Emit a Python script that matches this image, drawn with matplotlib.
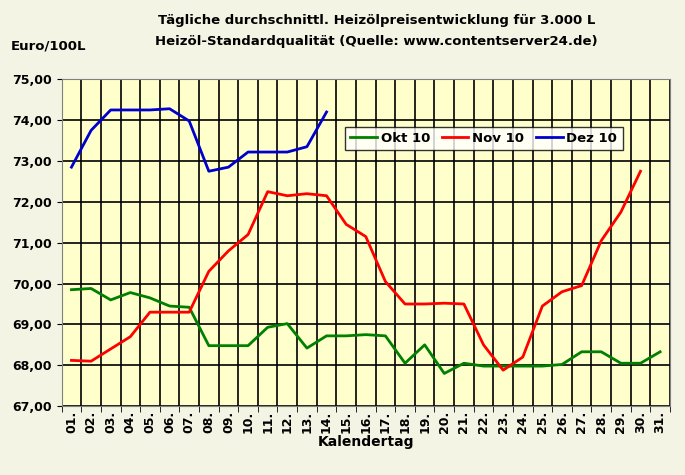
import matplotlib
matplotlib.use("Agg")
import matplotlib.pyplot as plt
import numpy as np

days = [f"{d:02d}." for d in range(1, 32)]
okt = [69.85,69.88,69.6,69.78,69.65,69.45,69.42,68.48,68.48,68.48,68.93,69.02,68.42,68.72,68.72,68.75,68.72,68.05,68.5,67.8,68.05,67.98,67.98,67.98,67.98,68.02,68.33,68.33,68.05,68.05,68.33]
nov = [68.12,68.1,68.4,68.7,69.3,69.3,69.3,70.3,70.8,71.2,72.25,72.15,72.2,72.15,71.45,71.15,70.05,69.5,69.5,69.52,69.5,68.5,67.88,68.2,69.45,69.8,69.95,71.05,71.75,72.75]
dez = [72.85,73.75,74.25,74.25,74.25,74.28,73.98,72.75,72.85,73.22,73.22,73.22,73.35,74.2]
yticks = np.arange(67, 75.01, 1)

fig = plt.figure(figsize=(6.85, 4.75), dpi=100)
fig.patch.set_facecolor("#F4F4E4")
ax = fig.add_axes([0.09, 0.145, 0.888, 0.688])
ax.set_facecolor("#FFFFCC")
x = np.arange(1, 32)
ax.plot(x[:len(okt)], okt, color="#008000", lw=2, label="Okt 10")
ax.plot(x[:len(nov)], nov, color="#FF0000", lw=2, label="Nov 10")
ax.plot(x[:len(dez)], dez, color="#0000CC", lw=2, label="Dez 10")
ax.set_xlim(0.5, 31.5)
ax.set_ylim(67, 75)
ax.set_yticks(yticks)
ax.set_yticklabels([f"{v:.2f}".replace(".", ",") for v in yticks], fontsize=9, fontweight="bold")
ax.set_xticks(x)
ax.set_xticklabels(days, rotation=90, fontsize=9, fontweight="bold")
ax.set_xticks(np.arange(0.5, 32, 1), minor=True)
ax.grid(True, which="minor", axis="x", color="black", lw=1.2)
ax.grid(True, which="major", axis="y", color="black", lw=1.2)
ax.tick_params(axis="x", which="major", length=0)
ax.tick_params(axis="x", which="minor", length=4)
for s in ax.spines.values():
    s.set_color("#808080")
ax.set_xlabel("Kalendertag", fontsize=10, fontweight="bold", labelpad=1)
fig.text(0.55, 0.95, "Tägliche durchschnittl. Heizölpreisentwicklung für 3.000 L", ha="center", fontsize=9.5, fontweight="bold")
fig.text(0.55, 0.905, "Heizöl-Standardqualität (Quelle: www.contentserver24.de)", ha="center", fontsize=9.5, fontweight="bold")
fig.text(0.015, 0.895, "Euro/100L", fontsize=9.5, fontweight="bold")
leg = ax.legend(loc="upper left", bbox_to_anchor=(0.455, 0.875), ncol=3, frameon=True,
                fancybox=False, edgecolor="black", handlelength=2.0, handletextpad=0.3, columnspacing=0.9,
                prop={"weight": "bold", "size": 9.5})
leg.get_frame().set_facecolor("white")
fig.savefig("out.png", facecolor=fig.get_facecolor())
